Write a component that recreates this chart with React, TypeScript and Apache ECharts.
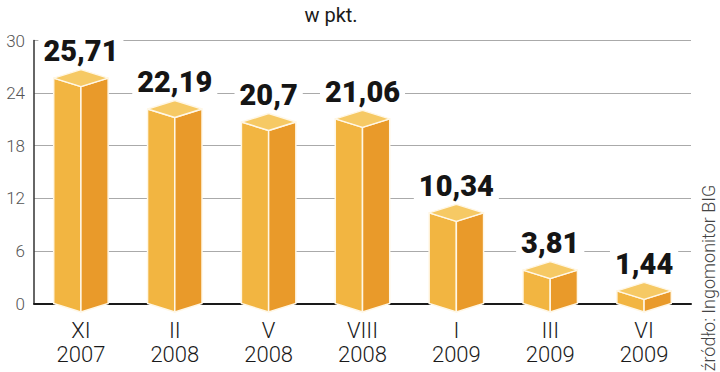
import React, { useEffect, useRef } from "react";
import * as echarts from "echarts";

const monthLabels = ["XI", "II", "V", "VIII", "I", "III", "VI"];
const yearLabels = ["2007", "2008", "2008", "2008", "2009", "2009", "2009"];
const values = [25.71, 22.19, 20.7, 21.06, 10.34, 3.81, 1.44];
const yTicks = [0, 6, 12, 18, 24, 30];
const unitText = "w pkt.";
const sourceText = "źródło: Ingomonitor BIG";

const categories = monthLabels.map((m, i) => m + "\n" + yearLabels[i]);

export default function App() {
  const ref = useRef<HTMLDivElement>(null);
  useEffect(() => {
    if (!ref.current) return;
    const chart = echarts.init(ref.current, null, { renderer: "svg" });
    const renderItem = (params: any, api: any) => {
      const i = api.value(0);
      const v = api.value(1);
      const top = api.coord([i, v]);
      const base = api.coord([i, 0]);
      const band = api.size([1, 0])[0];
      const hw = band * 0.29;
      const dy = 8.5;
      const cx = top[0];
      const yt = top[1];
      const y0 = base[1];
      const stroke = { stroke: "#fff7e6", lineWidth: 1.5, lineJoin: "round" };
      return {
        type: "group",
        children: [
          {
            type: "polygon",
            shape: { points: [[cx - hw, yt], [cx, yt + dy], [cx, y0 + dy], [cx - hw, y0]] },
            style: { fill: "#F2B541", ...stroke },
          },
          {
            type: "polygon",
            shape: { points: [[cx, yt + dy], [cx + hw, yt], [cx + hw, y0], [cx, y0 + dy]] },
            style: { fill: "#E99A2A", ...stroke },
          },
          {
            type: "polygon",
            shape: { points: [[cx - hw, yt], [cx, yt - dy], [cx + hw, yt], [cx, yt + dy]] },
            style: { fill: "#F6C964", ...stroke },
          },
          {
            type: "text",
            x: cx,
            y: yt - 27,
            style: {
              text: String(v).replace(".", ","),
              fill: "#151515",
              fontFamily: "Roboto",
              fontWeight: 900,
              fontSize: 29,
              align: "center",
              verticalAlign: "middle",
              backgroundColor: "#ffffff",
              padding: [0, 5],
            },
          },
        ],
      };
    };
    chart.setOption({
      animation: false,
      backgroundColor: "#ffffff",
      grid: { left: 34, right: 29, top: 40.5, bottom: 68.5 },
      xAxis: {
        type: "category",
        data: categories,
        axisLine: { show: true, lineStyle: { color: "#1a1a1a", width: 2 } },
        axisTick: { show: false },
        axisLabel: {
          color: "#1a1a1a",
          fontFamily: "Roboto",
          fontWeight: 300,
          fontSize: 22,
          lineHeight: 24,
          margin: 15,
        },
      },
      yAxis: {
        type: "value",
        min: yTicks[0],
        max: yTicks[yTicks.length - 1],
        interval: 6,
        axisLine: { show: true, lineStyle: { color: "#333", width: 1.5 } },
        axisTick: { show: false },
        splitLine: { show: true, lineStyle: { color: "#aaaaaa", width: 1 } },
        axisLabel: {
          color: "#555",
          fontFamily: "Roboto",
          fontWeight: 300,
          fontSize: 17,
          margin: 9,
          padding: [7, 0, 0, 0],
        },
      },
      series: [
        {
          type: "custom",
          renderItem,
          data: values.map((v, i) => [i, v]),
          encode: { x: 0, y: 1 },
          clip: false,
        },
      ],
      graphic: [
        {
          type: "text",
          x: 331,
          y: 15,
          style: {
            text: unitText,
            fill: "#1a1a1a",
            fontFamily: "Roboto",
            fontSize: 20,
            align: "center",
            verticalAlign: "middle",
          },
        },
        {
          type: "text",
          x: 708,
          y: 278,
          rotation: Math.PI / 2,
          style: {
            text: sourceText,
            fill: "#444",
            fontFamily: "Roboto",
            fontWeight: 300,
            fontSize: 18,
            align: "center",
            verticalAlign: "middle",
          },
        },
      ],
    });
    return () => chart.dispose();
  }, []);
  return (
    <div
      ref={ref}
      style={{ position: "fixed", left: 0, top: 0, width: 720, height: 372 }}
    />
  );
}
